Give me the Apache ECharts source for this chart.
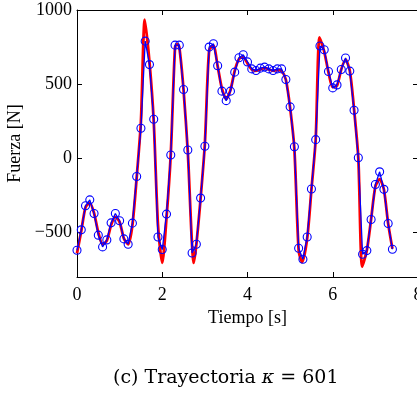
<!DOCTYPE html>
<html><head><meta charset="utf-8">
<script src="https://cdn.jsdelivr.net/npm/echarts@6/dist/echarts.min.js"></script>
<style>html,body{margin:0;padding:0;background:#fff}#c{width:417px;height:393px}</style>
</head><body><div id="c"></div>
<script>
// Sampled force (blue circles), one sample every 0.1 s starting at t = 0
var sampleStep = 0.1;
var sampleForce = [-620,-482,-320,-280,-372,-518,-597,-550,-435,-372,
  -421,-543,-579,-437,-122,203,790,632,263,-530,
  -615,-376,22,763,763,464,56,-638,-579,-268,
  81,750,772,624,453,389,453,581,678,698,
  650,603,592,608,615,603,592,603,603,531,
  347,78,-606,-680,-530,-207,126,757,732,585,
  475,495,599,676,588,324,4,-647,-622,-412,
  -176,-91,-209,-439,-613];
// Continuous trajectory (red), time/force pairs
var trajTime = [0,0.1,0.2,0.3,0.4,0.5,0.6,0.7,0.8,0.9,1.0,1.1,1.2,1.3,1.4,1.5,1.59,1.7,1.8,1.9,2.0,2.1,2.2,2.3,2.35,2.4,2.5,2.6,2.74,2.8,2.9,3.0,3.1,3.2,3.3,3.4,3.5,3.6,3.7,3.8,3.9,4.0,4.1,4.2,4.3,4.4,4.5,4.6,4.7,4.8,4.9,5.0,5.1,5.2,5.28,5.4,5.5,5.6,5.69,5.8,5.9,6.0,6.1,6.2,6.3,6.4,6.5,6.6,6.69,6.8,6.9,7.0,7.1,7.2,7.3,7.4];
var trajForce = [-640,-490,-330,-300,-370,-500,-580,-555,-450,-395,-430,-540,-580,-450,-130,250,935,650,250,-450,-705,-400,30,750,770,750,460,40,-705,-580,-270,100,730,760,620,470,400,460,590,670,680,640,600,590,600,610,600,590,595,590,530,340,60,-620,-700,-540,-210,130,815,720,580,480,490,600,665,590,330,0,-730,-620,-410,-190,-140,-210,-440,-610];
var xTicks = [0,2,4,6,8];
var yTicks = [-500,0,500,1000];
var xName = 'Tiempo [s]';
var yName = 'Fuerza [N]';

var blueData = sampleForce.map(function(v,i){return [+(i*sampleStep).toFixed(2), v];});
var redData = trajTime.map(function(t,i){return [t, trajForce[i]];});
var FONT = 'Liberation Serif';
var CAP = 'DejaVu Serif';
var chart = echarts.init(document.getElementById('c'), null, {renderer:'canvas'});
function minus(v){return String(v).replace('-', '\u2212');}
chart.setOption({
  backgroundColor:'#fff',
  animation:false,
  title:{
    text:'(c) Trayectoria {i|\u03ba} = 601',
    left:108, top:364,
    textStyle:{fontFamily:CAP, fontSize:19, fontWeight:'normal', color:'#000',
      rich:{i:{fontFamily:CAP, fontStyle:'italic', fontSize:19, color:'#000'}}}
  },
  grid:{left:77, right:-1, top:10, bottom:116, outerBoundsMode:'none', containLabel:false},
  xAxis:[{
    type:'value', min:0, max:8, interval:2, position:'bottom',
    name:xName, nameLocation:'middle', nameGap:26,
    nameTextStyle:{fontFamily:FONT, fontSize:18, color:'#000'},
    axisLine:{onZero:false, lineStyle:{color:'#000', width:1}},
    axisTick:{inside:true, length:5, lineStyle:{color:'#000'}},
    axisLabel:{fontFamily:FONT, fontSize:18, color:'#000', margin:9,
      customValues:xTicks, showMaxLabel:true, showMinLabel:true},
    splitLine:{show:false}
  },{
    type:'value', min:0, max:8, interval:2, position:'top',
    axisLine:{onZero:false, lineStyle:{color:'#000', width:1}},
    axisTick:{inside:true, length:5, lineStyle:{color:'#000'}},
    axisLabel:{show:false}, splitLine:{show:false}
  }],
  yAxis:[{
    type:'value', min:-800, max:1000, position:'left',
    name:yName, nameLocation:'middle', nameGap:50, nameRotate:90,
    nameTextStyle:{fontFamily:FONT, fontSize:18, color:'#000'},
    axisLine:{show:true, onZero:false, lineStyle:{color:'#000', width:1}},
    axisTick:{show:true, inside:true, length:5, lineStyle:{color:'#000'}, customValues:yTicks},
    axisLabel:{fontFamily:FONT, fontSize:18, color:'#000', margin:5,
      customValues:yTicks, formatter:function(v){return minus(v);}},
    splitLine:{show:false}
  },{
    type:'value', min:-800, max:1000, position:'right',
    axisLine:{show:true, onZero:false, lineStyle:{color:'#000', width:1}},
    axisTick:{show:true, inside:true, length:5, lineStyle:{color:'#000'}, customValues:yTicks},
    axisLabel:{show:false}, splitLine:{show:false}
  }],
  series:[{
    type:'line', xAxisIndex:0, yAxisIndex:0, data:redData,
    showSymbol:false, symbol:'none', smooth:0.25,
    lineStyle:{color:'#ff0000', width:2.8}, z:2
  },{
    type:'line', xAxisIndex:0, yAxisIndex:0, data:blueData,
    symbol:'circle', symbolSize:8, showSymbol:true,
    itemStyle:{color:'rgba(0,0,0,0)', borderColor:'#0000ff', borderWidth:1.1},
    lineStyle:{color:'#0000ff', width:1.3}, z:3
  }]
});
</script></body></html>
